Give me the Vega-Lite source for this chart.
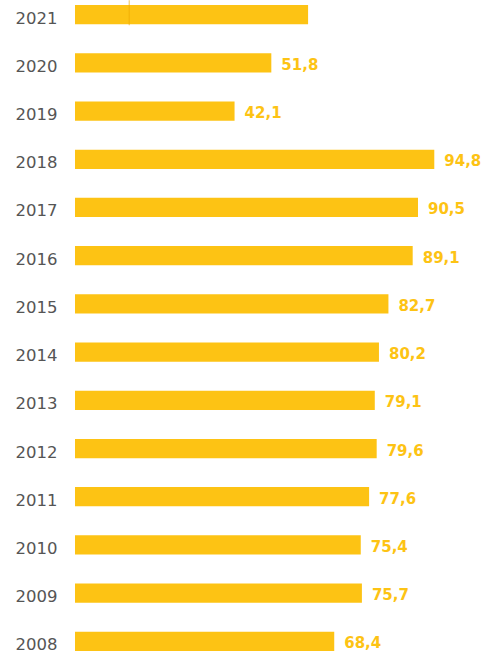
{
  "$schema": "https://vega.github.io/schema/vega-lite/v6.json",
  "width": 379,
  "height": 646,
  "autosize": "none",
  "padding": {"left": 75, "top": 5, "right": 31, "bottom": 4},
  "background": "white",
  "config": {
    "view": {"stroke": null},
    "locale": {"number": {"decimal": ",", "thousands": ".", "grouping": [3], "currency": ["", " €"]}}
  },
  "datasets": {
    "bars": [
      {"year": "2021", "value": 61.5},
      {"year": "2020", "value": 51.8},
      {"year": "2019", "value": 42.1},
      {"year": "2018", "value": 94.8},
      {"year": "2017", "value": 90.5},
      {"year": "2016", "value": 89.1},
      {"year": "2015", "value": 82.7},
      {"year": "2014", "value": 80.2},
      {"year": "2013", "value": 79.1},
      {"year": "2012", "value": 79.6},
      {"year": "2011", "value": 77.6},
      {"year": "2010", "value": 75.4},
      {"year": "2009", "value": 75.7},
      {"year": "2008", "value": 68.4}
    ],
    "marker": [{"year": "2021", "value": 14.3}]
  },
  "layer": [
    {
      "data": {"name": "bars"},
      "mark": {"type": "bar", "color": "#FDC314"},
      "encoding": {
        "y": {
          "field": "year", "type": "nominal", "sort": "descending",
          "scale": {"paddingInner": 0.6, "paddingOuter": 0},
          "axis": {"title": null, "domain": false, "ticks": false, "labelPadding": 18,
                   "labelFont": "DejaVu Sans", "labelFontSize": 16.5, "labelColor": "#555555",
                   "labelOffset": 4}
        },
        "x": {"field": "value", "type": "quantitative", "scale": {"domain": [0, 100]}, "axis": null}
      }
    },
    {
      "data": {"name": "bars"},
      "transform": [{"filter": "datum.year != '2021'"}],
      "mark": {"type": "text", "align": "left", "dx": 10, "dy": 2, "font": "DejaVu Sans", "fontSize": 15, "fontWeight": "bold", "color": "#FDC314"},
      "encoding": {
        "y": {"field": "year", "type": "nominal", "sort": "descending"},
        "x": {"field": "value", "type": "quantitative"},
        "text": {"field": "value", "type": "quantitative", "format": ".1f"}
      }
    },
    {
      "data": {"name": "marker"},
      "mark": {"type": "tick", "color": "#F0A800", "thickness": 1, "size": 25, "yOffset": -2},
      "encoding": {
        "y": {"field": "year", "type": "nominal", "sort": "descending"},
        "x": {"field": "value", "type": "quantitative"}
      }
    }
  ]
}
